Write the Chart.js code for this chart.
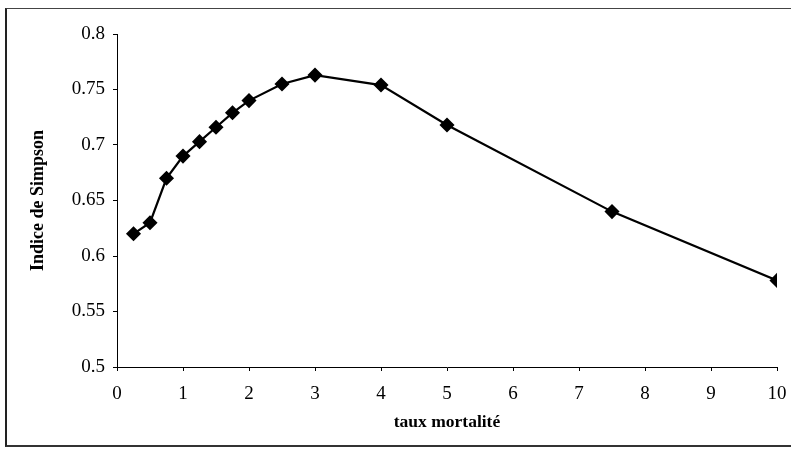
<!DOCTYPE html>
<html>
<head>
<meta charset="utf-8">
<script src="https://cdn.jsdelivr.net/npm/chart.js@4/dist/chart.umd.min.js"></script>
<style>
  html, body { margin: 0; padding: 0; background: #fff; }
  #wrap { position: relative; width: 791px; height: 450px; }
  #frame { position: absolute; left: 5px; top: 8px; width: 800px; height: 439px;
           border-left: 2px solid #222; border-top: 1px solid #444; border-bottom: 2px solid #333; box-sizing: border-box; }
  canvas { position: absolute; left: 0; top: 0; }
</style>
</head>
<body>
<div id="wrap">
  <div id="frame"></div>
  <canvas id="c" width="791" height="450"></canvas>
</div>
<script>
const mortalityRates = [0.25, 0.5, 0.75, 1, 1.25, 1.5, 1.75, 2, 2.5, 3, 4, 5, 7.5, 10];
const simpsonIndex   = [0.620, 0.630, 0.670, 0.690, 0.703, 0.716, 0.729, 0.740, 0.755, 0.763, 0.754, 0.718, 0.640, 0.578];
const xTitle = 'taux mortalité';
const yTitle = 'Indice de Simpson';

const serif = '"Liberation Serif", "DejaVu Serif", serif';

new Chart(document.getElementById('c'), {
  type: 'line',
  data: {
    datasets: [{
      data: mortalityRates.map((x, i) => ({ x: x, y: simpsonIndex[i] })),
      borderColor: '#000',
      backgroundColor: '#000',
      borderWidth: 2.2,
      pointStyle: 'rectRot',
      pointRadius: 6,
      pointBackgroundColor: '#000',
      pointBorderColor: '#000',
      tension: 0,
      fill: false
    }]
  },
  options: {
    responsive: false,
    animation: false,
    devicePixelRatio: 1,
    layout: { padding: { left: 28, right: 14, top: 34, bottom: 17 } },
    plugins: { legend: { display: false }, tooltip: { enabled: false } },
    scales: {
      x: {
        type: 'linear', min: 0, max: 10,
        afterFit: (s) => { s.height = 66; s.paddingLeft = 0; s.paddingRight = 0; },
        ticks: { stepSize: 1, color: '#000', font: { family: serif, size: 19 }, padding: 12 },
        grid: { drawOnChartArea: false, color: '#000', tickLength: 4 },
        border: { color: '#000', width: 1 },
        title: { display: true, text: xTitle, color: '#000', font: { family: serif, size: 17.5, weight: 'bold' }, padding: 0 }
      },
      y: {
        min: 0.5, max: 0.8,
        afterFit: (s) => { s.width = 89; },
        ticks: { stepSize: 0.05, color: '#000', font: { family: serif, size: 19 }, padding: 8,
                 callback: (v) => String(Math.round(v * 100) / 100) },
        grid: { drawOnChartArea: false, color: '#000', tickLength: 4 },
        border: { color: '#000', width: 1 },
        title: { display: true, text: yTitle, color: '#000', font: { family: serif, size: 18, weight: 'bold' }, padding: 0 }
      }
    }
  }
});
</script>
</body>
</html>
